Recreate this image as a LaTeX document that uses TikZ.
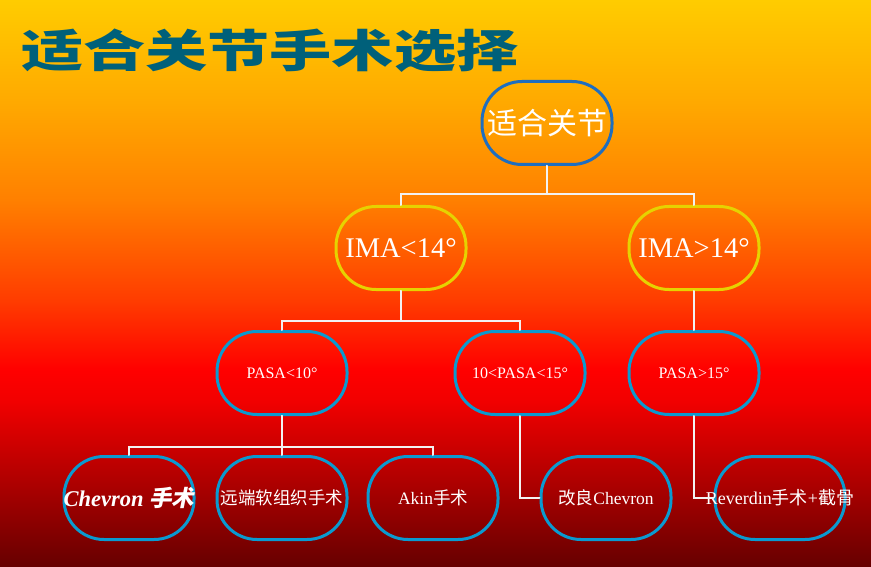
\documentclass[tikz,border=0pt]{standalone}
\usepackage{fontspec}
\setmainfont{Liberation Serif}
\newfontfamily\cjk{Noto Sans CJK SC}
\newfontfamily\cjkslant[FakeSlant=0.2]{Noto Sans CJK SC}
\usetikzlibrary{positioning}
\definecolor{bgA}{HTML}{660000}
\definecolor{bgB}{HTML}{B00000}
\definecolor{bgC}{HTML}{F20000}
\definecolor{bgD}{HTML}{FF0000}
\definecolor{bgE}{HTML}{FF3C00}
\definecolor{bgF}{HTML}{FF8000}
\definecolor{bgG}{HTML}{FFAA00}
\definecolor{bgH}{HTML}{FFCC00}
\definecolor{titel}{HTML}{00607A}
\definecolor{rootblue}{HTML}{1E6EC0}
\definecolor{imagold}{HTML}{E6D200}
\definecolor{pasablue}{HTML}{0A9AD0}
\definecolor{linkwhite}{HTML}{F2F2F2}
\pgfdeclareverticalshading{slidebg}{100bp}{color(0bp)=(bgA); color(25bp)=(bgA);
  color(32.7bp)=(bgB); color(39.7bp)=(bgC); color(42.4bp)=(bgD); color(48.5bp)=(bgE);
  color(57.4bp)=(bgF); color(66.2bp)=(bgG); color(75bp)=(bgH); color(100bp)=(bgH)}

\begin{document}
\begin{tikzpicture}[x=1pt,y=-1pt,line cap=round,
    box/.style={draw,rounded corners=40pt,minimum width=130pt,minimum height=83pt,
                line width=3pt,text=white,inner sep=0pt},
    rootbox/.style={box,draw=rootblue,font=\fontsize{30}{32}\selectfont\cjk},
    imabox/.style={box,draw=imagold,font=\fontsize{28.5}{30}\selectfont},
    pasabox/.style={box,draw=pasablue,font=\fontsize{16}{18}\selectfont},
    opbox/.style={box,draw=pasablue,font=\fontsize{17.5}{19}\selectfont},
    link/.style={draw=linkwhite,line width=2pt}]
  \shade[shading=slidebg] (0,0) rectangle (871,567);
  \useasboundingbox (0,0) rectangle (871,567);
  % title
  \node[anchor=west,text=titel,inner sep=0pt,font=\fontsize{56}{60}\selectfont\cjk\bfseries]
    (title) at (21,51) {\scalebox{1.11}[0.8]{适合关节手术选择}};
  % tree
  \node[rootbox] (root) at (547,123) {适合关节};
  \node[imabox] (imaL) at (401,248) {IMA<14°};
  \node[imabox] (imaR) at (694,248) {IMA>14°};
  \node[pasabox] (pasaL) at (282,373) {PASA<10°};
  \node[pasabox] (pasaM) at (520,373) {10<PASA<15°};
  \node[pasabox] (pasaR) at (694,373) {PASA>15°};
  \node[opbox] (opA) at (129,498) {\makebox[0pt]{\fontsize{22.5}{24}\selectfont\bfseries\itshape Chevron {\cjkslant 手术}}};
  \node[opbox] (opB) at (282,498) {\makebox[0pt]{\cjk 远端软组织手术}};
  \node[opbox] (opC) at (433,498) {Akin{\cjk 手术}};
  \node[opbox] (opD) at (606,498) {{\cjk 改良}Chevron};
  \node[opbox] (opE) at (780,498) {\makebox[0pt]{\fontsize{18}{20}\selectfont Reverdin{\cjk 手术}+{\cjk 截骨}}};
  % connectors
  \foreach \t in {imaL,imaR}{ \draw[link] (root.south) -- ++(0,28) -| (\t.north); }
  \foreach \t in {pasaL,pasaM}{ \draw[link] (imaL.south) -- ++(0,30) -| (\t.north); }
  \draw[link] (imaR.south) -- (pasaR.north);
  \foreach \t in {opA,opB,opC}{ \draw[link] (pasaL.south) -- ++(0,31) -| (\t.north); }
  \draw[link] (pasaM.south) |- (opD.west);
  \draw[link] (pasaR.south) |- (opE.west);
\end{tikzpicture}
\end{document}
